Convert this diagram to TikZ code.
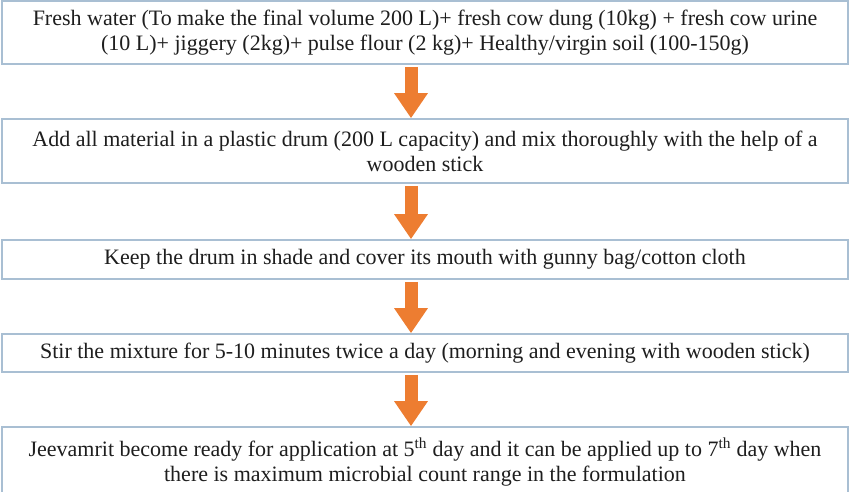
\documentclass[tikz,border=0pt]{standalone}
\usepackage{fontspec}
\setmainfont{Liberation Serif}
\newfontfamily\tnrfont{Liberation Serif}
\usetikzlibrary{arrows.meta}
\definecolor{boxline}{HTML}{A9BFD3}
\definecolor{arrorange}{HTML}{ED7D31}
\definecolor{txt}{HTML}{1E1E1E}
\begin{document}
\begin{tikzpicture}[x=1pt,y=-1pt,
  stepbox/.style={draw=boxline, line width=1.6pt, fill=white, rectangle,
    minimum width=846pt, align=center, text=txt, inner sep=0pt,
    font=\tnrfont\fontsize{22}{25}\selectfont},
  flowarrow/.style={draw=arrorange, line width=13pt,
    -{Triangle[width=32pt,length=25pt]}, arrorange, shorten <=2pt}]
\useasboundingbox (0,0) rectangle (850,491);
\clip (0,0) rectangle (850,491);
\node[stepbox, minimum height=63pt] (b1) at (425,32.5)
  {Fresh water (To make the final volume 200 L)+ fresh cow dung (10kg) + fresh cow urine\\
   (10 L)+ jiggery (2kg)+ pulse flour (2 kg)+ Healthy/virgin soil (100-150g)};
\node[stepbox, minimum height=64pt] (b2) at (425,151)
  {Add all material in a plastic drum (200 L capacity) and mix thoroughly with the help of a\\
   wooden stick};
\node[stepbox, minimum height=39pt] (b3) at (425,259.5)
  {Keep the drum in shade and cover its mouth with gunny bag/cotton cloth};
\node[stepbox, minimum height=38pt] (b4) at (425,353)
  {Stir the mixture for 5-10 minutes twice a day (morning and evening with wooden stick)};
\node[stepbox, minimum height=70pt] (b5) at (425,462)
  {Jeevamrit become ready for application at 5\textsuperscript{th} day and it can be applied up to 7\textsuperscript{th} day when\\
   there is maximum microbial count range in the formulation};
\draw[flowarrow] ([xshift=-14pt]b1.south) -- ([xshift=-14pt]b2.north);
\draw[flowarrow] ([xshift=-14pt]b2.south) -- ([xshift=-14pt]b3.north);
\draw[flowarrow] ([xshift=-14pt]b3.south) -- ([xshift=-14pt]b4.north);
\draw[flowarrow] ([xshift=-14pt]b4.south) -- ([xshift=-14pt]b5.north);
\end{tikzpicture}
\end{document}
